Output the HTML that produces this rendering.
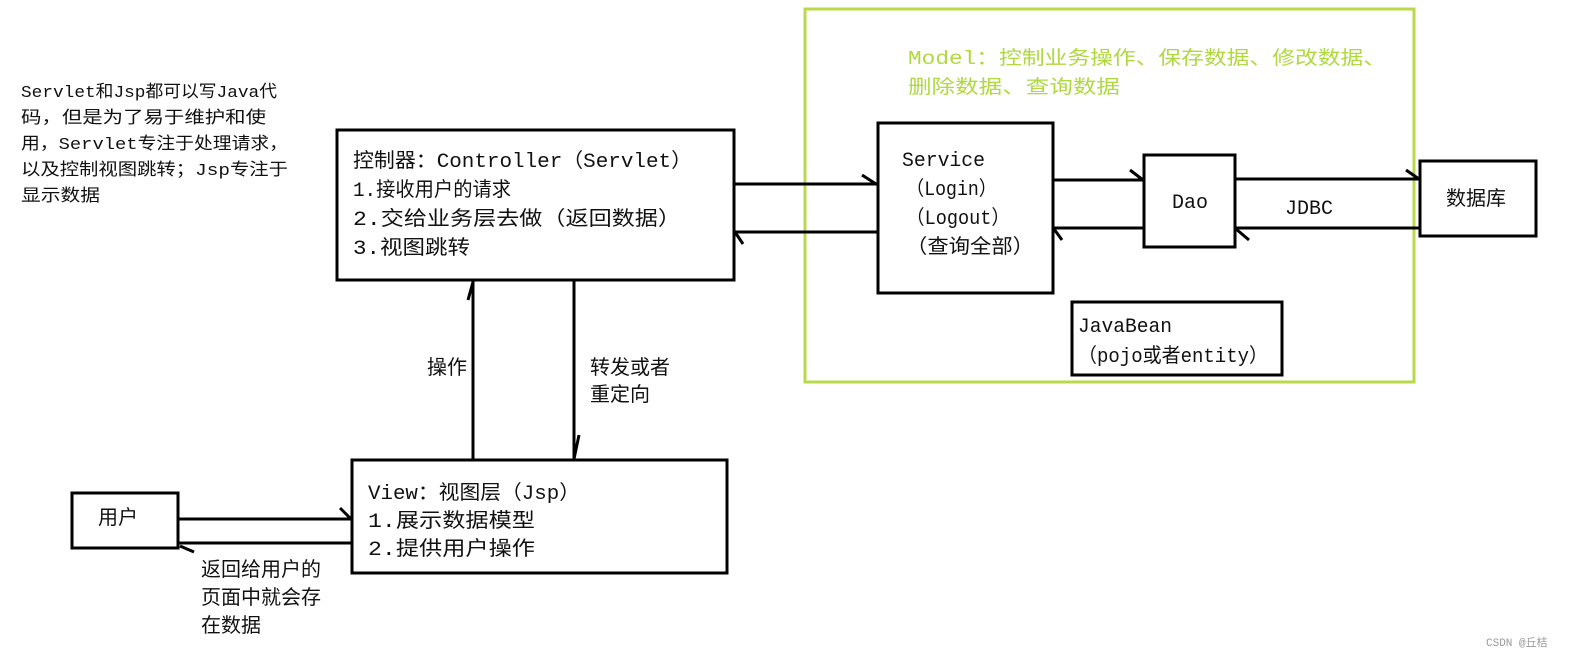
<!DOCTYPE html>
<html><head><meta charset="utf-8"><style>
html,body{margin:0;padding:0;background:#fff;}
svg{display:block}
text{font-family:"Liberation Mono","Noto Sans CJK SC",monospace;fill:#111;}
</style></head><body>
<svg width="1576" height="660" viewBox="0 0 1576 660" xmlns="http://www.w3.org/2000/svg">
<rect x="0" y="0" width="1576" height="660" fill="#fff"/>
<rect x="805" y="9" width="609" height="373" fill="none" stroke="#b9d84a" stroke-width="3"/>
<g font-size="19" lengthAdjust="spacingAndGlyphs">
<text x="908" y="64" textLength="478" lengthAdjust="spacingAndGlyphs" style="fill:#b0d840">Model：控制业务操作、保存数据、修改数据、</text>
<text x="908" y="93" textLength="212" lengthAdjust="spacingAndGlyphs" style="fill:#b0d840">删除数据、查询数据</text>
</g>
<g fill="none" stroke="#000" stroke-width="3">
<rect x="337" y="130" width="397" height="150"/>
<rect x="878" y="123" width="175" height="170"/>
<rect x="1144" y="155" width="91" height="92"/>
<rect x="1420" y="161" width="116" height="75"/>
<rect x="1072" y="302" width="210" height="73"/>
<rect x="352" y="460" width="375" height="113"/>
<rect x="72" y="493" width="106" height="55"/>
<line x1="734" y1="184" x2="878" y2="184"/>
<line x1="862" y1="175" x2="876" y2="184"/>
<line x1="878" y1="232" x2="734" y2="232"/>
<line x1="735" y1="232" x2="743" y2="244"/>
<line x1="1053" y1="180" x2="1144" y2="180"/>
<line x1="1130" y1="170" x2="1143" y2="180"/>
<line x1="1144" y1="228" x2="1053" y2="228"/>
<line x1="1054" y1="229" x2="1062" y2="240"/>
<line x1="1235" y1="179" x2="1420" y2="179"/>
<line x1="1406" y1="170" x2="1419" y2="179"/>
<line x1="1420" y1="228" x2="1235" y2="228"/>
<line x1="1236" y1="229" x2="1249" y2="240"/>
<line x1="473" y1="460" x2="473" y2="281"/>
<line x1="473" y1="282" x2="468" y2="300"/>
<line x1="574" y1="281" x2="574" y2="460"/>
<line x1="574" y1="459" x2="579" y2="435"/>
<line x1="178" y1="519" x2="352" y2="519"/>
<line x1="340" y1="508" x2="351" y2="519"/>
<line x1="352" y1="543" x2="178" y2="543"/>
<line x1="180" y1="546" x2="194" y2="552"/>
</g>
<g font-size="17">
<text x="21" y="97" textLength="256" lengthAdjust="spacingAndGlyphs">Servlet和Jsp都可以写Java代</text>
<text x="21" y="123" textLength="245" lengthAdjust="spacingAndGlyphs">码，但是为了易于维护和使</text>
<text x="21" y="149" textLength="267" lengthAdjust="spacingAndGlyphs">用，Servlet专注于处理请求，</text>
<text x="21" y="175" textLength="267" lengthAdjust="spacingAndGlyphs">以及控制视图跳转；Jsp专注于</text>
<text x="21" y="201" textLength="79" lengthAdjust="spacingAndGlyphs">显示数据</text>
</g>
<g font-size="20">
<text x="353" y="167" textLength="339" lengthAdjust="spacingAndGlyphs">控制器：Controller（Servlet）</text>
<text x="353" y="196" textLength="158" lengthAdjust="spacingAndGlyphs">1.接收用户的请求</text>
<text x="353" y="225" textLength="328" lengthAdjust="spacingAndGlyphs">2.交给业务层去做（返回数据）</text>
<text x="353" y="254" textLength="117" lengthAdjust="spacingAndGlyphs">3.视图跳转</text>
<text x="902" y="166" textLength="83" lengthAdjust="spacingAndGlyphs">Service</text>
<text x="906" y="195" textLength="91" lengthAdjust="spacingAndGlyphs">（Login）</text>
<text x="906" y="224" textLength="104" lengthAdjust="spacingAndGlyphs">（Logout）</text>
<text x="906" y="253" textLength="128" lengthAdjust="spacingAndGlyphs">（查询全部）</text>
<text x="1172" y="208">Dao</text>
<text x="1285" y="214" textLength="48" lengthAdjust="spacingAndGlyphs">JDBC</text>
<text x="1446" y="205">数据库</text>
<text x="1078" y="332" textLength="94" lengthAdjust="spacingAndGlyphs">JavaBean</text>
<text x="1078" y="362" textLength="190" lengthAdjust="spacingAndGlyphs">（pojo或者entity）</text>
<text x="427" y="374">操作</text>
<text x="590" y="374">转发或者</text>
<text x="590" y="401">重定向</text>
<text x="368" y="499" textLength="212" lengthAdjust="spacingAndGlyphs">View：视图层（Jsp）</text>
<text x="368" y="527" textLength="167" lengthAdjust="spacingAndGlyphs">1.展示数据模型</text>
<text x="368" y="555" textLength="167" lengthAdjust="spacingAndGlyphs">2.提供用户操作</text>
<text x="98" y="524">用户</text>
<text x="201" y="576">返回给用户的</text>
<text x="201" y="604">页面中就会存</text>
<text x="201" y="632">在数据</text>
</g>
<text x="1486" y="646" font-size="11" style="fill:#999">CSDN @丘桔</text>
</svg>
</body></html>
